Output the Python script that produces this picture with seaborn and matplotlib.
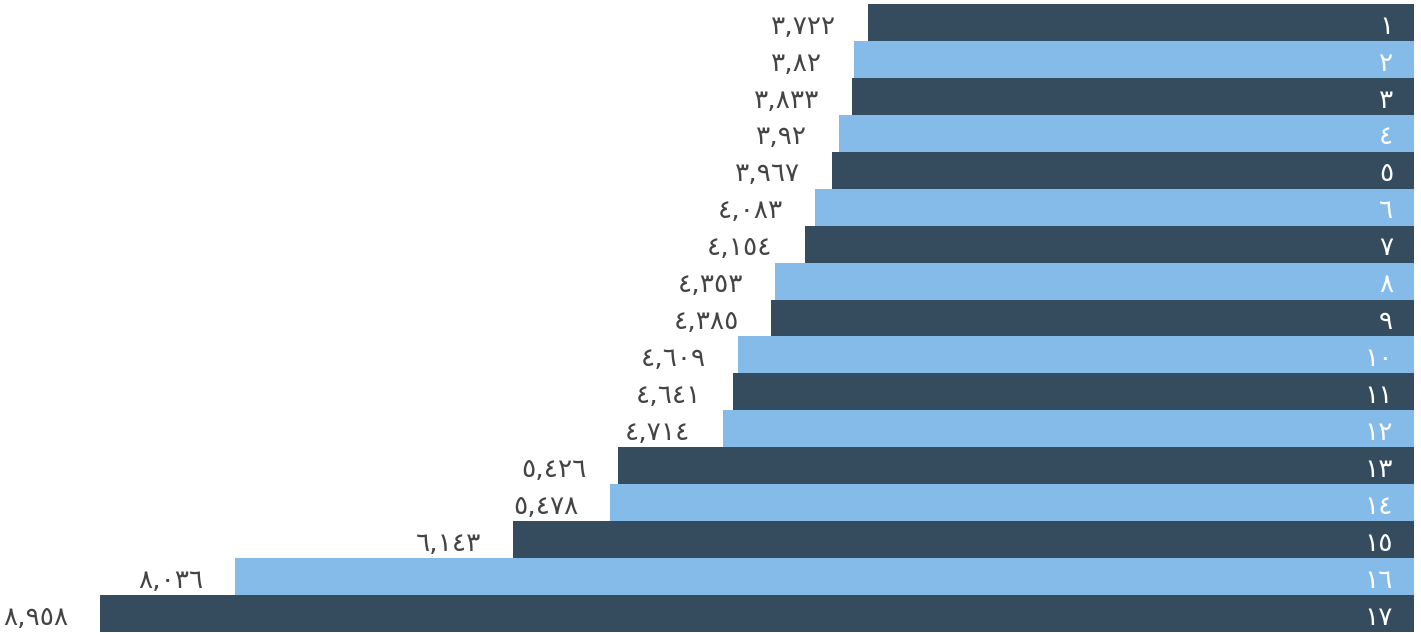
import matplotlib
matplotlib.use("Agg")
import matplotlib.pyplot as plt
import seaborn as sns
import pandas as pd

categories = ["١", "٢", "٣", "٤", "٥", "٦", "٧", "٨", "٩", "١٠",
              "١١", "١٢", "١٣", "١٤", "١٥", "١٦", "١٧"]
values = [3722, 3820, 3833, 3920, 3967, 4083, 4154, 4353, 4385, 4609,
          4641, 4714, 5426, 5478, 6143, 8036, 8958]
value_labels = ["٣,٧٢٢", "٣,٨٢", "٣,٨٣٣", "٣,٩٢", "٣,٩٦٧", "٤,٠٨٣", "٤,١٥٤",
                "٤,٣٥٣", "٤,٣٨٥", "٤,٦٠٩", "٤,٦٤١", "٤,٧١٤", "٥,٤٢٦",
                "٥,٤٧٨", "٦,١٤٣", "٨,٠٣٦", "٨,٩٥٨"]
groups = ["a" if i % 2 == 0 else "b" for i in range(len(categories))]

sns.set_theme(style="white")
plt.rcParams['font.family'] = ['DejaVu Sans Condensed', 'DejaVu Sans']

df = pd.DataFrame({"cat": categories, "val": values, "grp": groups})

fig = plt.figure(figsize=(14.21, 6.33), dpi=100)
ax = fig.add_axes([0, 1 / 633, 1414 / 1421, 628 / 633])
sns.barplot(data=df, x="val", y="cat", hue="grp", order=categories,
            palette={"a": "#344c5d", "b": "#85bbe8"}, dodge=False,
            width=1.0, orient="h", legend=False, ax=ax, saturation=1,
            linewidth=0)

ax.set_xlim(9640, 0)
ax.set_ylim(len(categories) - 0.5, -0.5)
for s in ax.spines.values():
    s.set_visible(False)
ax.set_xticks([])
ax.set_yticks([])
ax.set_xlabel("")
ax.set_ylabel("")

for i, (v, lab, cat) in enumerate(zip(values, value_labels, categories)):
    ax.annotate(lab, xy=(v, i), xytext=(-23, -3), textcoords="offset points",
                ha="right", va="center", fontsize=19, color="#444444")
    ax.annotate(cat, xy=(0, i), xytext=(-15, -3), textcoords="offset points",
                ha="right", va="center", fontsize=19, color="white")

fig.savefig("out.png", dpi=100)
